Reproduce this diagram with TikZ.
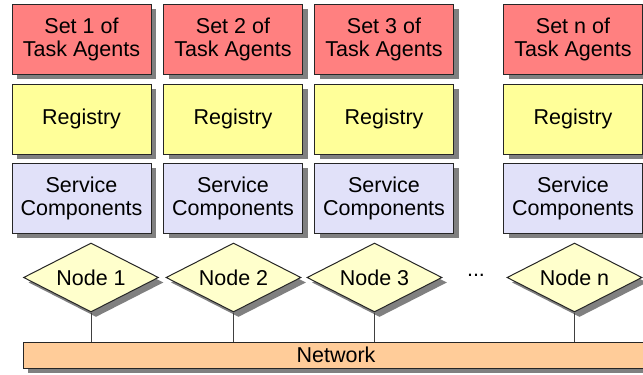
\documentclass[tikz,border=0pt]{standalone}
\usepackage{fontspec}
\setmainfont{Liberation Sans}
\usetikzlibrary{shapes.geometric,shadows}
\definecolor{agentred}{HTML}{FF8080}
\definecolor{registryyellow}{HTML}{FFFF99}
\definecolor{servicelilac}{HTML}{E1E1F9}
\definecolor{nodecream}{HTML}{FFFFCC}
\definecolor{netorange}{HTML}{FFCC99}

\begin{document}

\begin{tikzpicture}[x=1pt,y=-1pt,
  castshadow/.style={general shadow={fill=black!50, shadow xshift=5pt, shadow yshift=-5pt}},
  labelfont/.style={font=\fontsize{21.5}{23}\selectfont},
  box/.style={castshadow, draw=black!85, line width=1pt, minimum width=139pt,
    minimum height=70pt, inner sep=0pt, align=center, labelfont},
  agents/.style={box, fill=agentred},
  registry/.style={box, fill=registryyellow},
  service/.style={box, fill=servicelilac},
  host/.style={castshadow, diamond, aspect=2, draw=black!85, line width=1pt,
    fill=nodecream, minimum width=135pt, minimum height=69pt, inner sep=0pt, labelfont},
  netbar/.style={castshadow, draw=black!85, line width=1pt, fill=netorange,
    minimum width=626pt, minimum height=26pt, inner sep=0pt, labelfont},
  link/.style={draw=black!75, line width=1pt}]
\clip (0,0) rectangle (643,375);
\fill[white] (0,0) rectangle (643,375);

% task agent sets
\node[agents] (a1) at (81.5,39) {Set 1 of\\Task Agents};
\node[agents] (a2) at (233,39)  {Set 2 of\\Task Agents};
\node[agents] (a3) at (384,39)  {Set 3 of\\Task Agents};
\node[agents] (an) at (573,39)  {Set n of\\Task Agents};

% registries
\node[registry] (r1) at (81.5,119) {Registry};
\node[registry] (r2) at (233,119)  {Registry};
\node[registry] (r3) at (384,119)  {Registry};
\node[registry] (rn) at (573,119)  {Registry};

% service components
\node[service] (s1) at (81.5,198) {Service\\Components};
\node[service] (s2) at (233,198)  {Service\\Components};
\node[service] (s3) at (384,198)  {Service\\Components};
\node[service] (sn) at (573,198)  {Service\\Components};

% hosts
\node[host] (d1) at (91,277.5)    {Node 1};
\node[host] (d2) at (233.5,277.5) {Node 2};
\node[host] (d3) at (374.5,277.5) {Node 3};
\node[host] (dn) at (574.5,277.5) {Node n};
\node[labelfont, inner sep=0pt] (dots) at (476,275) {...};

% network bus
\node[netbar] (net) at (336,355) {Network};

\draw[link] (d1.south) -- (d1.south |- net.north);
\draw[link] (d2.south) -- (d2.south |- net.north);
\draw[link] (d3.south) -- (d3.south |- net.north);
\draw[link] (dn.south) -- (dn.south |- net.north);
\end{tikzpicture}

\end{document}
